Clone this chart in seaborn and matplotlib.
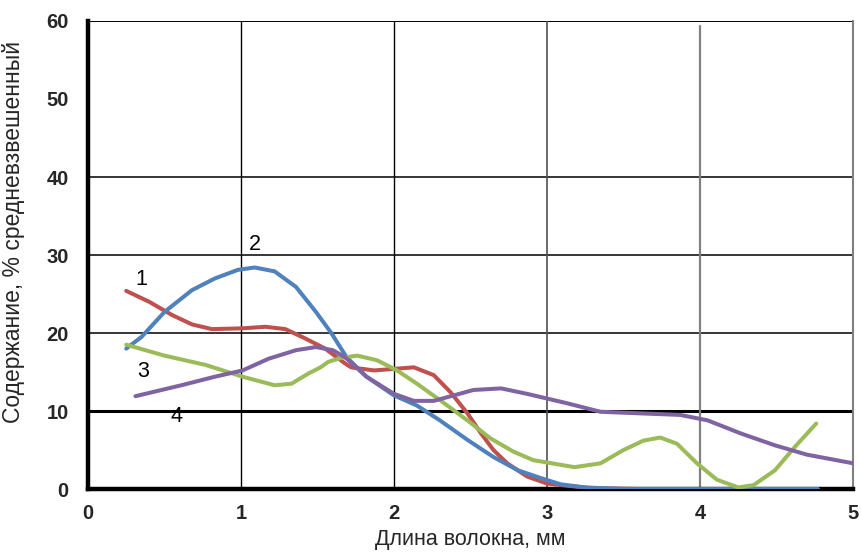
import numpy as np
import pandas as pd
import matplotlib
matplotlib.use("Agg")
import matplotlib.pyplot as plt
import seaborn as sns

# Fibre-length distribution curves (length, mm -> weight-averaged content, %)
x1 = [0.25, 0.40, 0.55, 0.68, 0.81, 1.01, 1.16, 1.29, 1.42, 1.55, 1.68, 1.72, 1.87, 2.00, 2.13,
      2.26, 2.37, 2.48, 2.57, 2.65, 2.74, 2.87, 3.00, 3.09, 3.30, 3.60, 4.00, 4.40, 4.77]
y1 = [25.4, 24.0, 22.3, 21.1, 20.5, 20.6, 20.8, 20.5, 19.3, 18.0, 16.1, 15.6, 15.2, 15.4, 15.6,
      14.6, 12.4, 9.7, 7.1, 5.0, 3.3, 1.6, 0.7, 0.5, 0.1, 0.0, 0.0, 0.0, 0.0]

x2 = [0.25, 0.35, 0.50, 0.68, 0.83, 0.98, 1.09, 1.22, 1.36, 1.49, 1.59, 1.69, 1.82, 2.00, 2.15,
      2.30, 2.48, 2.65, 2.81, 2.96, 3.09, 3.25, 3.50, 4.00, 4.40, 4.77]
y2 = [18.0, 19.5, 22.7, 25.5, 27.0, 28.1, 28.4, 27.9, 25.9, 22.7, 20.0, 16.9, 14.4, 12.0, 10.7,
      8.8, 6.3, 4.1, 2.4, 1.4, 0.6, 0.2, 0.0, 0.0, 0.0, 0.0]

x3 = [0.25, 0.50, 0.77, 1.01, 1.22, 1.33, 1.44, 1.52, 1.57, 1.65, 1.76, 1.89, 2.02, 2.15, 2.30,
      2.48, 2.63, 2.78, 2.91, 3.09, 3.18, 3.35, 3.50, 3.63, 3.74, 3.85, 3.98, 4.11, 4.25, 4.35,
      4.49, 4.62, 4.76]
y3 = [18.5, 17.1, 15.9, 14.4, 13.3, 13.5, 14.8, 15.6, 16.3, 16.8, 17.1, 16.5, 15.2, 13.5, 11.4,
      8.8, 6.5, 4.8, 3.7, 3.1, 2.8, 3.3, 5.0, 6.2, 6.6, 5.8, 3.3, 1.2, 0.2, 0.5,
      2.4, 5.4, 8.4]

x4 = [0.31, 0.61, 0.83, 1.01, 1.18, 1.36, 1.49, 1.60, 1.68, 1.82, 2.00, 2.13, 2.26, 2.39, 2.52,
      2.70, 2.87, 3.00, 3.13, 3.35, 3.61, 3.87, 4.05, 4.27, 4.49, 4.70, 5.00]
y4 = [11.9, 13.3, 14.4, 15.2, 16.7, 17.8, 18.2, 17.8, 16.9, 14.4, 12.2, 11.3, 11.3, 12.0, 12.7,
      12.9, 12.2, 11.6, 11.0, 9.9, 9.7, 9.5, 8.8, 7.1, 5.6, 4.4, 3.3]

series_names = ["1", "2", "3", "4"]
series_colors = ["#C0504D", "#4F81BD", "#9BBB59", "#8064A2"]
# where each curve's number is written
label_x = [0.35, 1.09, 0.36, 0.58]
label_y = [26.9, 31.3, 15.1, 9.25]

x_ticks = [0, 1, 2, 3, 4, 5]
y_ticks = [0, 10, 20, 30, 40, 50, 60]

frames = []
for name, xs, ys in zip(series_names, [x1, x2, x3, x4], [y1, y2, y3, y4]):
    frames.append(pd.DataFrame({"length": xs, "content": ys, "curve": name}))
df = pd.concat(frames, ignore_index=True)

sns.set_theme(style="white")
plt.rcParams["font.family"] = ["Liberation Sans", "DejaVu Sans"]

fig = plt.figure(figsize=(8.61, 5.54), dpi=100)
ax = fig.add_axes([0.1022, 0.1173, 0.8885, 0.8448])

# grid
for yv, lw in [(10, 2.2), (20, 1.1), (30, 1.1), (40, 1.1), (60, 1.4)]:
    ax.axhline(yv, color="black", lw=lw, zorder=1)
ax.axvline(1, color="black", lw=1.0, zorder=1)
ax.axvline(2, color="black", lw=1.0, zorder=1)
ax.axvline(3, color="#505050", lw=1.2, zorder=1)
ax.axvline(4, color="#808080", lw=1.6, ymax=0.99, zorder=1)

sns.lineplot(data=df, x="length", y="content", hue="curve", palette=series_colors,
             hue_order=series_names, sort=False, estimator=None, lw=2.9,
             legend=False, ax=ax, zorder=3, solid_capstyle="round", solid_joinstyle="round")

for name, lx, ly in zip(series_names, label_x, label_y):
    ax.text(lx, ly, name, fontsize=15.5, ha="center", va="center", color="black")

ax.set_xlim(0, 5)
ax.set_ylim(0, 60)
ax.set_xticks(x_ticks)
ax.set_yticks(y_ticks)
ax.tick_params(axis="both", length=0, labelsize=14.5)
ax.tick_params(axis="x", pad=11)
ax.tick_params(axis="y", pad=14)
for lab in ax.get_xticklabels() + ax.get_yticklabels():
    lab.set_fontweight("bold")

ax.set_xlabel("Длина волокна, мм", fontsize=15.5)
ax.set_ylabel("Содержание, % средневзвешенный", fontsize=16.5)
ax.xaxis.set_label_coords(0.5, -0.085)
ax.yaxis.set_label_coords(-0.082, 0.55)

for side in ["left", "bottom"]:
    ax.spines[side].set_color("black")
    ax.spines[side].set_linewidth(3.2)
ax.spines["top"].set_visible(False)
ax.spines["right"].set_color("#808080")
ax.spines["right"].set_linewidth(1.5)

fig.savefig("out.png", dpi=100, facecolor="white")
